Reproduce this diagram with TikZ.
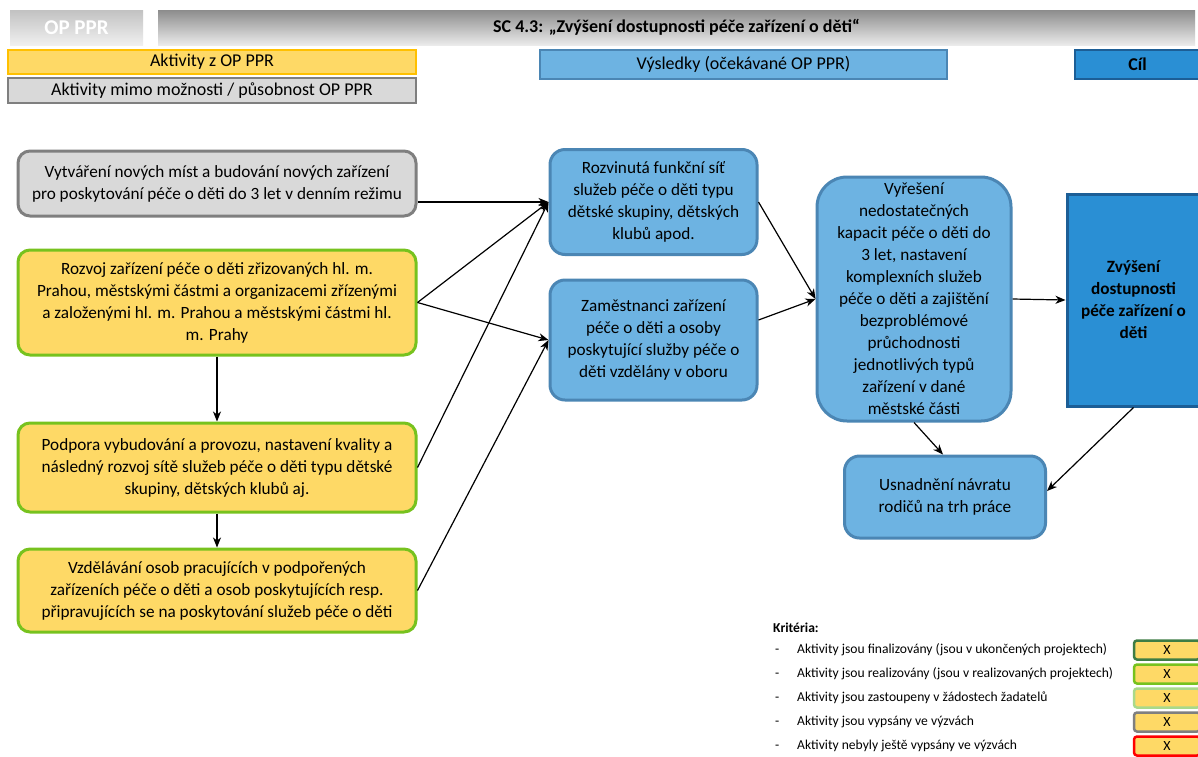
\documentclass[tikz,border=0pt]{standalone}
\usepackage{fontspec}
\setmainfont{Carlito}
\usetikzlibrary{arrows.meta,calc}
\definecolor{yel}{HTML}{FED966}
\definecolor{grn}{HTML}{77C21E}
\definecolor{grayf}{HTML}{D9D9D9}
\definecolor{grayb}{HTML}{7F7F7F}
\definecolor{bluef}{HTML}{6DB3E2}
\definecolor{blueb}{HTML}{4B86B4}
\definecolor{goalf}{HTML}{2A8FD4}
\definecolor{goalb}{HTML}{1C5E96}
\definecolor{orgb}{HTML}{FFC000}
\definecolor{dgrn}{HTML}{3E7D45}
\definecolor{lgrn}{HTML}{A9D98A}
\definecolor{redb}{HTML}{FF0000}
\tikzset{
  body/.style={font=\fontsize{17.2}{22}\selectfont, align=center, inner sep=0pt, line width=3pt},
  actg/.style={body, draw=grayb, fill=grayf, rounded corners=12pt},
  acty/.style={body, draw=grn, fill=yel, rounded corners=12pt},
  res/.style={body, draw=blueb, fill=bluef, rounded corners=15pt},
  goalbox/.style={body, draw=goalb, fill=goalf, font=\fontsize{17.2}{22}\selectfont\bfseries},
  legbox/.style={inner sep=0pt, line width=1.5pt, font=\fontsize{18}{20}\selectfont},
  arr/.style={-{Stealth[length=10pt,width=8pt,inset=3pt]}, line width=1.2pt},
  crit/.style={font=\fontsize{13.6}{15}\selectfont, anchor=west, inner sep=0pt, text height=9.5pt, text depth=3pt},
  xbox/.style={fill=yel, rounded corners=3pt, line width=2.5pt, minimum width=66pt, minimum height=19pt, inner sep=0pt, font=\fontsize{14}{15}\selectfont}
}
\begin{document}
\begin{tikzpicture}[x=1pt,y=-1pt]
\clip (0,0) rectangle (1198,756);
\fill[white] (0,0) rectangle (1198,756);
% header
\node[top color=black!24, bottom color=black!6, minimum width=133pt, minimum height=35pt, inner sep=0pt,
  text=white, font=\fontsize{21}{22}\selectfont\bfseries] (op) at (76.5,27.5) {OP PPR};
\node[top color=black!45, bottom color=black!8, minimum width=1037pt, minimum height=35pt, inner sep=0pt,
  font=\fontsize{18}{20}\selectfont\bfseries] (sc) at (676.5,27.5) {SC 4.3: „Zvýšení dostupnosti péče zařízení o děti“};
\node[legbox, draw=orgb, fill=yel, minimum width=408pt, minimum height=24pt] (ly) at (212,62) {Aktivity z OP PPR};
\node[legbox, draw=grayb, fill=grayf, minimum width=408pt, minimum height=25pt] (lg) at (212,90.5) {Aktivity mimo možnosti / působnost OP PPR};
\node[legbox, draw=blueb, fill=bluef, minimum width=407pt, minimum height=29pt] (lv) at (743.5,64.5) {Výsledky (očekávané OP PPR)};
\node[legbox, draw=goalb, fill=goalf, minimum width=125pt, minimum height=29pt, font=\fontsize{18}{20}\selectfont\bfseries] (lc) at (1137.5,64.5) {Cíl};
% activities
\node[actg, minimum width=398pt, minimum height=65pt] (a1) at (217,183.5)
  {Vytváření nových míst a budování nových zařízení\\pro poskytování péče o děti do 3 let v denním režimu};
\node[acty, minimum width=398pt, minimum height=105pt] (a2) at (217,302.5)
  {Rozvoj zařízení péče o děti zřizovaných hl. m.\\Prahou, městskými částmi a organizacemi zřízenými\\a založenými hl. m. Prahou a městskými částmi hl.\\m. Prahy};
\node[acty, minimum width=398pt, minimum height=89pt] (a3) at (217,467.5)
  {Podpora vybudování a provozu, nastavení kvality a\\následný rozvoj sítě služeb péče o děti typu dětské\\skupiny, dětských klubů aj.};
\node[acty, minimum width=398pt, minimum height=83pt] (a4) at (217,590.5)
  {Vzdělávání osob pracujících v podpořených\\zařízeních péče o děti a osob poskytujících resp.\\připravujících se na poskytování služeb péče o děti};
% results
\node[res, minimum width=207pt, minimum height=105pt] (r1) at (653.5,202)
  {Rozvinutá funkční síť\\služeb péče o děti typu\\dětské skupiny, dětských\\klubů apod.};
\node[res, minimum width=207pt, minimum height=120pt] (r2) at (653.5,340)
  {Zaměstnanci zařízení\\péče o děti a osoby\\poskytující služby péče o\\děti vzdělány v oboru};
\node[res, rounded corners=30pt, minimum width=194pt, minimum height=244pt] (r3) at (914,299)
  {Vyřešení\\nedostatečných\\kapacit péče o děti do\\3 let, nastavení\\komplexních služeb\\péče o děti a zajištění\\bezproblémové\\průchodnosti\\jednotlivých typů\\zařízení v dané\\městské části};
\node[goalbox, minimum width=133pt, minimum height=212pt] (goal) at (1133.5,300)
  {Zvýšení\\dostupnosti\\péče zařízení o\\děti};
\node[res, minimum width=201pt, minimum height=82pt] (usn) at (945,497)
  {Usnadnění návratu\\rodičů na trh práce};
% connectors
\draw[arr] (a1.east |- r1.west) -- (r1.west);
\draw[arr] (a2.east) -- (r1.west);
\draw[arr] (a2.east) -- (r2.west);
\draw[arr] (a3.east) -- (r1.west);
\draw[arr] (a4.east) -- (r2.west);
\draw[arr] (a2.south) -- (a3.north);
\draw[arr] (a3.south) -- (a4.north);
\draw[arr] (r1.east) -- (r3.west);
\draw[arr] ([yshift=20pt]r2.east) -- (r3.west);
\draw[arr] (r3.east) -- (goal.west);
\draw[arr] (r3.south) -- ([xshift=-2pt]usn.north);
\draw[arr] (goal.south) -- ([yshift=6pt]usn.east);
% criteria legend
\node[crit, font=\fontsize{13.6}{15}\selectfont\bfseries] (kt) at (773,629) {Kritéria:};
\foreach \y/\t/\c [count=\i] in {650/Aktivity jsou finalizovány (jsou v ukončených projektech)/dgrn,
  674/Aktivity jsou realizovány (jsou v realizovaných projektech)/grn,
  698/Aktivity jsou zastoupeny v žádostech žadatelů/lgrn,
  722/Aktivity jsou vypsány ve výzvách/grayb,
  746/Aktivity nebyly ještě vypsány ve výzvách/redb}{
  \node[crit] (d\i) at (775,\y) {-};
  \node[crit] (c\i) at (797,\y) {\t};
  \node[xbox, draw=\c] (x\i) at (1167,\y) {X};
}
\end{tikzpicture}
\end{document}
